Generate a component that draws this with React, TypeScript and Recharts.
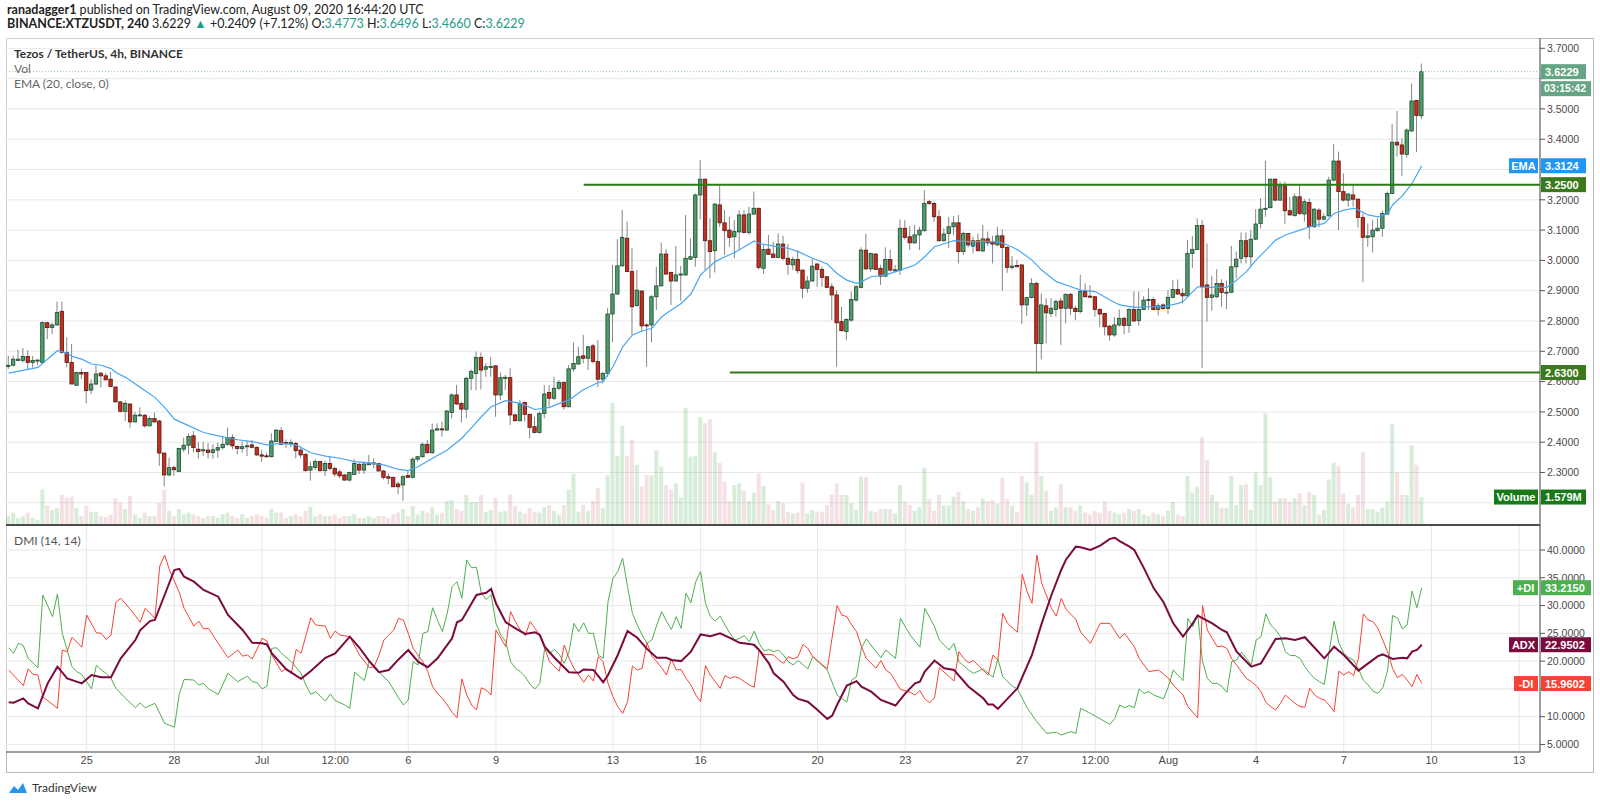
import React from "react";
import {
  ComposedChart,
  Bar,
  Line,
  XAxis,
  YAxis,
  CartesianGrid,
  ReferenceLine,
} from "recharts";

// XTZ/USDT 4h candles, first bar opens 22 Jun 2020 08:00 UTC, last one 9 Aug 16:00
// [open, high, low, close]
const ohlc: number[][] = [
  [2.650,2.685,2.641,2.654],[2.654,2.685,2.650,2.674],[2.670,2.705,2.669,2.674],[2.670,2.711,2.663,2.683],
  [2.683,2.704,2.641,2.663],[2.663,2.685,2.647,2.670],[2.670,2.674,2.654,2.671],[2.663,2.798,2.658,2.795],
  [2.794,2.798,2.740,2.778],[2.779,2.795,2.757,2.787],[2.787,2.864,2.784,2.828],[2.832,2.864,2.691,2.696],
  [2.696,2.746,2.647,2.663],[2.663,2.724,2.592,2.592],[2.588,2.632,2.586,2.630],[2.630,2.643,2.608,2.625],
  [2.630,2.632,2.529,2.570],[2.572,2.608,2.559,2.592],[2.592,2.654,2.588,2.625],[2.628,2.630,2.581,2.619],
  [2.619,2.628,2.603,2.606],[2.608,2.632,2.581,2.584],[2.582,2.584,2.531,2.533],[2.533,2.535,2.498,2.502],
  [2.502,2.537,2.470,2.528],[2.526,2.528,2.448,2.467],[2.467,2.500,2.465,2.489],[2.489,2.515,2.487,2.490],
  [2.489,2.493,2.448,2.454],[2.454,2.485,2.452,2.478],[2.478,2.498,2.465,2.467],[2.470,2.474,2.322,2.364],
  [2.364,2.366,2.254,2.292],[2.292,2.349,2.287,2.316],[2.316,2.322,2.289,2.309],[2.303,2.382,2.302,2.379],
  [2.377,2.415,2.368,2.390],[2.390,2.430,2.360,2.419],[2.421,2.437,2.366,2.382],[2.377,2.401,2.346,2.369],
  [2.374,2.401,2.355,2.375],[2.374,2.397,2.346,2.366],[2.366,2.393,2.346,2.375],[2.374,2.399,2.349,2.382],
  [2.382,2.421,2.375,2.393],[2.393,2.448,2.388,2.415],[2.415,2.426,2.377,2.388],[2.386,2.390,2.360,2.379],
  [2.379,2.402,2.365,2.385],[2.385,2.405,2.354,2.388],[2.391,2.407,2.380,2.383],[2.383,2.387,2.354,2.358],
  [2.358,2.374,2.336,2.354],[2.355,2.365,2.350,2.352],[2.352,2.429,2.350,2.404],[2.402,2.442,2.400,2.440],
  [2.438,2.449,2.391,2.393],[2.399,2.409,2.380,2.396],[2.396,2.409,2.383,2.399],[2.396,2.401,2.347,2.372],
  [2.374,2.380,2.347,2.358],[2.360,2.363,2.303,2.306],[2.308,2.336,2.273,2.319],[2.317,2.344,2.308,2.336],
  [2.336,2.338,2.303,2.306],[2.306,2.339,2.289,2.330],[2.330,2.354,2.306,2.313],[2.313,2.319,2.286,2.295],
  [2.302,2.310,2.281,2.289],[2.292,2.295,2.273,2.275],[2.275,2.303,2.270,2.300],[2.294,2.344,2.292,2.330],
  [2.327,2.332,2.295,2.308],[2.308,2.332,2.295,2.328],[2.327,2.358,2.325,2.329],[2.328,2.347,2.314,2.332],
  [2.330,2.332,2.303,2.305],[2.305,2.308,2.277,2.284],[2.286,2.297,2.262,2.281],[2.284,2.286,2.251,2.253],
  [2.262,2.270,2.229,2.253],[2.259,2.292,2.207,2.286],[2.290,2.308,2.281,2.284],[2.284,2.350,2.281,2.344],
  [2.344,2.354,2.336,2.352],[2.352,2.399,2.350,2.393],[2.393,2.407,2.363,2.365],[2.365,2.462,2.363,2.440],
  [2.440,2.462,2.440,2.444],[2.444,2.468,2.418,2.443],[2.440,2.506,2.438,2.503],[2.498,2.561,2.479,2.556],
  [2.556,2.589,2.523,2.526],[2.528,2.534,2.465,2.509],[2.509,2.616,2.479,2.611],[2.611,2.640,2.572,2.633],
  [2.627,2.699,2.572,2.680],[2.680,2.696,2.574,2.638],[2.641,2.660,2.616,2.649],[2.649,2.682,2.616,2.650],
  [2.652,2.653,2.484,2.556],[2.556,2.630,2.539,2.613],[2.613,2.622,2.572,2.614],[2.613,2.644,2.457,2.490],
  [2.490,2.495,2.468,2.471],[2.471,2.539,2.468,2.528],[2.531,2.534,2.468,2.492],[2.492,2.495,2.413,2.449],
  [2.451,2.484,2.429,2.432],[2.432,2.501,2.429,2.495],[2.495,2.589,2.479,2.559],[2.564,2.589,2.517,2.545],
  [2.545,2.616,2.539,2.578],[2.578,2.605,2.572,2.597],[2.597,2.600,2.508,2.517],[2.517,2.655,2.515,2.642],
  [2.642,2.729,2.633,2.660],[2.658,2.715,2.655,2.682],[2.685,2.754,2.660,2.677],[2.677,2.716,2.638,2.715],
  [2.718,2.724,2.660,2.666],[2.666,2.737,2.581,2.608],[2.608,2.633,2.594,2.627],[2.627,2.842,2.616,2.823],
  [2.823,2.985,2.729,2.889],[2.889,3.070,2.886,2.982],[2.982,3.166,2.979,3.076],[3.073,3.128,2.961,2.963],
  [2.963,3.040,2.754,2.847],[2.851,2.968,2.847,2.902],[2.899,2.902,2.765,2.784],[2.787,2.792,2.649,2.786],
  [2.787,2.886,2.729,2.880],[2.880,2.979,2.836,2.916],[2.916,3.059,2.913,3.021],[3.021,3.037,2.953,2.955],
  [2.960,2.963,2.853,2.932],[2.932,3.048,2.930,2.952],[2.952,2.982,2.867,2.955],[2.952,3.150,2.949,3.007],
  [3.004,3.073,3.001,3.012],[3.010,3.221,2.979,3.216],[3.216,3.331,3.136,3.268],[3.268,3.270,2.968,3.065],
  [3.065,3.139,2.941,3.029],[3.032,3.188,2.960,3.186],[3.183,3.249,3.111,3.124],[3.124,3.166,3.018,3.098],
  [3.100,3.144,3.045,3.076],[3.078,3.133,3.007,3.095],[3.094,3.166,3.034,3.150],[3.150,3.166,3.089,3.092],
  [3.092,3.177,3.084,3.153],[3.153,3.227,3.150,3.172],[3.172,3.174,2.970,2.977],[2.974,3.051,2.955,3.036],
  [3.037,3.084,3.018,3.020],[3.021,3.062,3.007,3.010],[3.010,3.089,3.007,3.054],[3.054,3.081,3.001,3.007],
  [3.007,3.054,2.952,2.987],[2.985,3.012,2.968,3.003],[3.003,3.034,2.957,2.966],[2.968,2.970,2.875,2.908],
  [2.908,2.948,2.893,2.932],[2.932,3.007,2.930,2.981],[2.988,2.992,2.913,2.970],[2.970,2.979,2.913,2.944],
  [2.946,2.948,2.908,2.911],[2.913,2.924,2.803,2.886],[2.886,2.902,2.649,2.794],[2.798,2.847,2.765,2.768],
  [2.765,2.809,2.737,2.805],[2.803,2.897,2.798,2.871],[2.869,2.919,2.864,2.913],[2.911,3.043,2.908,3.034],
  [3.034,3.087,2.968,2.972],[2.972,3.026,2.963,3.023],[3.021,3.023,2.968,2.970],[2.974,2.985,2.919,2.948],
  [2.948,3.043,2.946,3.003],[3.003,3.036,2.963,2.968],[2.968,2.985,2.963,2.969],[2.968,3.135,2.952,3.106],
  [3.106,3.133,3.069,3.076],[3.078,3.113,3.034,3.058],[3.058,3.117,3.054,3.084],[3.084,3.111,3.034,3.100],
  [3.098,3.232,3.095,3.188],[3.194,3.199,3.183,3.188],[3.188,3.194,3.128,3.144],[3.144,3.166,3.062,3.065],
  [3.065,3.106,3.062,3.087],[3.089,3.144,3.040,3.111],[3.111,3.146,3.084,3.124],[3.124,3.150,2.990,3.029],
  [3.029,3.095,3.018,3.089],[3.089,3.091,3.043,3.051],[3.047,3.078,3.023,3.065],[3.065,3.089,3.029,3.032],
  [3.031,3.117,3.029,3.071],[3.071,3.095,3.047,3.058],[3.062,3.081,2.990,3.054],[3.051,3.111,3.047,3.081],
  [3.081,3.102,2.900,3.043],[3.043,3.047,2.959,2.977],[2.977,3.014,2.970,2.981],[2.983,3.001,2.977,2.979],
  [2.985,2.986,2.790,2.853],[2.853,2.880,2.817,2.877],[2.877,2.941,2.875,2.924],[2.924,2.930,2.633,2.726],
  [2.726,2.891,2.673,2.853],[2.850,2.875,2.726,2.827],[2.825,2.875,2.814,2.842],[2.838,2.871,2.814,2.864],
  [2.866,2.877,2.721,2.842],[2.842,2.891,2.792,2.888],[2.888,2.893,2.820,2.842],[2.842,2.850,2.803,2.831],
  [2.831,2.952,2.825,2.897],[2.897,2.924,2.878,2.880],[2.882,2.918,2.875,2.880],[2.880,2.882,2.814,2.838],
  [2.838,2.842,2.781,2.823],[2.825,2.827,2.752,2.781],[2.783,2.787,2.735,2.754],[2.754,2.814,2.748,2.787],
  [2.787,2.838,2.781,2.809],[2.809,2.814,2.757,2.785],[2.785,2.842,2.761,2.838],[2.838,2.897,2.798,2.800],
  [2.801,2.897,2.785,2.838],[2.838,2.882,2.836,2.869],[2.869,2.908,2.836,2.871],[2.871,2.878,2.836,2.838],
  [2.838,2.858,2.818,2.850],[2.853,2.858,2.836,2.841],[2.841,2.902,2.823,2.878],[2.878,2.935,2.875,2.904],
  [2.904,2.937,2.886,2.889],[2.891,2.908,2.858,2.883],[2.883,3.067,2.880,3.023],[3.023,3.081,2.974,3.036],
  [3.036,3.139,3.034,3.115],[3.115,3.133,2.644,2.913],[2.919,3.056,2.798,2.878],[2.878,2.949,2.834,2.886],
  [2.880,2.971,2.875,2.924],[2.924,2.938,2.847,2.894],[2.894,2.933,2.839,2.895],[2.895,3.048,2.891,2.979],
  [2.979,3.029,2.941,3.004],[3.007,3.092,2.990,3.065],[3.065,3.092,2.990,3.012],[3.012,3.100,2.979,3.070],
  [3.070,3.169,3.067,3.120],[3.122,3.205,3.106,3.169],[3.170,3.329,3.144,3.172],[3.174,3.271,3.172,3.268],
  [3.268,3.271,3.194,3.199],[3.199,3.260,3.197,3.246],[3.246,3.260,3.120,3.164],[3.164,3.210,3.148,3.150],
  [3.148,3.221,3.144,3.210],[3.210,3.251,3.150,3.155],[3.153,3.202,3.128,3.194],[3.191,3.205,3.070,3.111],
  [3.111,3.172,3.108,3.169],[3.166,3.172,3.109,3.136],[3.136,3.155,3.133,3.144],[3.147,3.276,3.144,3.265],
  [3.265,3.384,3.260,3.328],[3.328,3.359,3.100,3.227],[3.227,3.287,3.194,3.199],[3.199,3.221,3.177,3.219],
  [3.216,3.249,3.177,3.202],[3.202,3.205,3.109,3.142],[3.142,3.155,2.928,3.076],[3.076,3.122,3.045,3.081],
  [3.078,3.133,3.026,3.100],[3.098,3.139,3.095,3.106],[3.106,3.164,3.078,3.155],[3.153,3.227,3.150,3.221],
  [3.221,3.450,3.219,3.390],[3.390,3.493,3.342,3.381],[3.381,3.403,3.279,3.351],[3.350,3.436,3.339,3.430],
  [3.427,3.584,3.425,3.526],[3.528,3.529,3.357,3.478],[3.4773,3.6496,3.466,3.6229],
];

// volume per candle, millions of XTZ
const volume: number[] = [
  0.5,0.7,0.4,0.5,0.7,0.4,0.3,2.0,1.1,0.85, 0.95,1.7,1.55,1.6,0.95,0.5,1.07,0.75,0.75,0.5,
  0.45,0.6,1.5,1.26,0.9,1.64,0.6,0.4,0.7,0.5, 0.5,1.24,1.98,0.8,0.5,0.9,0.6,0.7,0.6,0.5,
  0.4,0.5,0.5,0.4,0.6,0.7,0.5,0.4,0.6,0.4, 0.5,0.6,0.5,0.4,0.9,0.7,0.7,0.4,0.5,0.6,
  0.5,0.8,1.03,0.5,0.6,0.5,0.5,0.6,0.4,0.5, 0.5,0.6,0.4,0.4,0.5,0.4,0.5,0.5,0.4,0.6,
  0.7,0.9,0.5,1.07,0.6,0.8,0.7,1.0,0.6,0.7, 1.37,1.4,0.9,0.8,1.7,1.3,1.3,1.7,0.75,0.85,
  1.55,0.75,0.8,1.73,1.07,0.75,0.65,0.95,0.75,0.7, 1.0,1.13,0.8,0.6,1.13,2.0,2.9,0.75,1.13,0.8,
  1.37,2.1,0.95,2.8,6.9,3.9,5.6,3.9,4.8,3.4, 2.2,2.8,2.8,4.2,3.3,2.26,2.0,2.35,1.56,6.6,
  3.86,3.9,6.1,5.75,6.0,4.1,3.5,2.45,1.36,2.26, 2.35,1.92,1.36,1.83,2.88,2.2,1.17,0.85,1.36,1.23,
  0.75,0.65,0.7,2.4,0.65,0.85,0.75,0.75,1.13,1.7, 2.35,1.7,1.7,1.23,0.85,2.73,2.73,0.8,0.75,0.9,
  0.9,0.9,0.65,2.26,1.33,1.13,0.8,1.0,3.24,1.45, 0.8,1.7,1.1,1.1,1.6,1.88,1.36,0.9,0.8,1.0,
  1.5,1.36,1.4,1.2,2.67,1.45,1.1,0.75,2.77,2.4, 1.7,4.65,2.77,1.95,0.8,1.0,2.3,1.0,1.0,0.8,
  1.1,0.7,0.6,0.8,0.7,1.36,0.8,0.7,0.6,0.7, 0.9,0.8,0.9,0.6,0.5,0.7,0.6,0.5,0.8,1.3,
  0.6,0.5,2.77,1.83,2.17,4.95,3.67,1.7,1.32,0.98, 0.98,2.77,1.13,2.26,2.3,0.85,2.96,2.26,6.3,2.7,
  1.32,1.5,1.5,1.32,1.5,1.8,1.13,1.88,1.7,0.6, 0.85,2.58,3.52,3.33,1.8,1.2,1.0,1.7,4.1,0.9,
  0.9,0.75,0.98,1.32,5.7,2.96,1.7,1.7,4.5,3.4, 1.579,
];

// EMA(20) read at [candle index, value]
const emaPoints: number[][] = [
  [0,2.628],[6,2.647],[10,2.702],[12,2.694],[13,2.683],[15,2.674],[17,2.658],[19,2.654],[21,2.643],
  [22,2.630],[24,2.614],[26,2.592],[28,2.570],[30,2.548],[32,2.515],[34,2.476],[37,2.454],[40,2.432],
  [43,2.421],[47,2.408],[50,2.402],[53,2.391],[56,2.396],[59,2.391],[62,2.365],[65,2.354],[68,2.347],
  [71,2.336],[74,2.332],[77,2.325],[80,2.310],[82,2.306],[84,2.319],[87,2.347],[90,2.374],[93,2.413],
  [95,2.448],[97,2.484],[99,2.517],[102,2.537],[105,2.528],[108,2.508],[111,2.515],[113,2.528],
  [115,2.539],[118,2.574],[121,2.597],[122,2.600],[124,2.649],[126,2.715],[128,2.754],[130,2.767],
  [132,2.776],[134,2.814],[136,2.836],[138,2.858],[140,2.889],[142,2.952],[143,2.967],[145,2.996],
  [147,3.012],[149,3.026],[151,3.045],[153,3.064],[154,3.056],[157,3.047],[160,3.040],[162,3.029],
  [165,3.007],[168,2.988],[170,2.957],[172,2.935],[174,2.924],[175,2.930],[177,2.946],[180,2.952],
  [183,2.968],[186,2.985],[188,3.012],[190,3.045],[192,3.055],[194,3.065],[197,3.062],[200,3.062],
  [203,3.062],[205,3.051],[207,3.036],[210,3.001],[212,2.968],[215,2.930],[218,2.913],[220,2.902],
  [223,2.897],[226,2.869],[228,2.853],[231,2.845],[234,2.847],[237,2.847],[240,2.858],[241,2.864],
  [244,2.913],[246,2.911],[250,2.911],[252,2.935],[254,2.963],[256,3.001],[258,3.034],[260,3.067],
  [262,3.084],[265,3.100],[267,3.111],[270,3.122],[272,3.155],[274,3.166],[276,3.172],[277,3.166],
  [279,3.150],[281,3.144],[283,3.155],[284,3.183],[286,3.213],[288,3.254],[290,3.3124],
];

// DMI(14,14) lines read at [candle index, value]
const plusDI: number[][] = [
  [0,22.4],[1,21.4],[2,23.2],[3,22.8],[4,20.5],[6,18.8],[7,31.9],[9,28.0],[10,32.1],[11,25.0],[13,19.0],
  [14,18.1],[15,17.6],[17,15.0],[18,19.3],[19,18.4],[20,17.8],[21,16.9],[22,15.1],[24,13.3],[26,11.6],
  [27,12.5],[28,11.6],[30,12.4],[31,10.6],[32,8.8],[34,8.1],[35,14.0],[36,16.7],[38,16.6],[39,15.7],
  [40,16.0],[41,15.0],[43,14.0],[45,17.8],[47,16.3],[49,17.3],[50,16.3],[51,16.1],[52,15.0],[53,15.5],
  [54,22.3],[55,22.4],[56,21.4],[58,19.9],[60,17.8],[61,15.7],[62,14.0],[63,14.5],[65,12.8],[66,14.1],
  [67,12.9],[69,12.1],[70,11.5],[71,18.0],[73,16.5],[74,20.1],[75,18.8],[78,16.3],[80,13.4],[81,12.1],
  [82,13.0],[83,19.9],[84,19.3],[85,25.0],[86,25.3],[87,29.6],[88,27.4],[89,25.3],[90,28.6],[91,33.4],
  [92,34.3],[93,31.3],[94,38.2],[95,36.8],[96,36.9],[97,32.2],[98,31.1],[99,32.0],[100,26.8],[101,24.7],
  [102,23.5],[103,19.9],[104,18.7],[105,18.1],[106,17.2],[107,15.8],[108,15.0],[109,16.0],[110,22.3],
  [111,21.4],[112,22.1],[113,21.2],[114,19.6],[115,21.7],[116,26.8],[117,25.3],[118,26.9],[119,25.0],
  [120,25.0],[121,21.1],[122,20.5],[123,30.7],[124,34.9],[125,36.1],[126,38.5],[127,33.4],[128,28.6],
  [129,26.5],[130,24.7],[131,23.2],[132,23.8],[133,26.5],[134,28.9],[135,27.2],[136,25.7],[137,28.0],
  [138,25.9],[139,32.2],[140,30.5],[141,34.3],[142,36.1],[143,30.4],[144,28.0],[145,27.2],[146,28.1],
  [147,26.5],[148,25.0],[149,23.8],[150,24.1],[151,24.6],[152,23.5],[153,25.4],[154,23.2],[155,21.8],
  [156,22.1],[157,21.7],[158,22.0],[159,21.1],[160,19.9],[161,19.3],[162,20.1],[164,18.6],[165,20.8],
  [168,18.4],[170,13.9],[172,12.6],[173,16.6],[174,17.2],[175,22.4],[176,24.0],[179,20.6],[180,22.0],
  [182,20.5],[183,27.7],[185,24.7],[187,22.5],[188,29.5],[190,26.2],[191,23.8],[193,22.0],[194,23.2],
  [195,19.9],[197,18.4],[198,17.8],[200,18.6],[202,17.1],[203,20.4],[204,17.2],[206,15.5],[207,15.0],
  [209,11.6],[211,9.1],[213,7.0],[215,7.2],[216,6.7],[218,7.3],[219,7.0],[220,11.5],[222,10.6],[226,8.6],
  [227,9.7],[228,12.1],[229,11.6],[230,12.0],[231,11.6],[232,15.0],[233,14.2],[234,14.5],[235,13.9],
  [237,13.2],[238,15.4],[239,18.4],[241,16.5],[242,27.7],[243,26.2],[244,28.4],[245,19.9],[246,16.9],
  [247,16.0],[248,16.0],[249,15.4],[250,14.4],[251,19.9],[252,20.2],[253,21.6],[254,20.5],[255,19.3],
  [256,23.8],[257,24.4],[258,28.5],[259,26.5],[260,25.6],[261,24.4],[262,21.7],[263,21.0],[264,21.0],
  [265,20.5],[266,19.0],[267,17.8],[268,16.9],[269,16.3],[270,15.8],[271,21.7],[272,27.2],[273,23.2],
  [274,21.4],[275,20.6],[276,20.2],[277,18.6],[278,16.6],[279,15.7],[280,14.6],[281,14.2],[282,15.2],
  [283,18.4],[284,28.2],[285,27.8],[286,25.8],[287,26.5],[288,32.6],[289,29.6],[290,33.215],
];

const minusDI: number[][] = [
  [0,18.4],[3,15.6],[4,18.6],[5,17.6],[6,17.5],[7,13.6],[10,11.5],[11,22.0],[12,21.7],[13,24.3],[15,22.5],
  [16,28.3],[18,25.1],[19,25.0],[20,23.9],[21,24.7],[22,30.6],[23,31.3],[25,29.3],[27,27.0],[28,29.5],
  [30,27.7],[31,37.1],[32,39.1],[33,36.4],[35,32.4],[36,29.5],[38,26.3],[39,27.2],[40,25.8],[41,25.9],
  [43,23.2],[45,20.6],[47,22.0],[48,20.9],[49,21.1],[50,20.4],[52,24.1],[53,23.6],[54,21.1],[56,18.1],
  [57,18.7],[58,17.8],[59,22.1],[60,21.4],[62,27.8],[63,26.5],[65,26.3],[66,24.1],[67,25.4],[68,24.7],
  [70,24.4],[72,21.1],[74,18.8],[75,19.0],[76,21.1],[77,23.8],[79,25.6],[80,27.7],[81,27.4],[82,25.0],
  [83,22.3],[84,21.1],[85,19.9],[86,18.1],[87,15.4],[88,14.2],[89,13.3],[90,12.1],[91,10.8],[92,9.8],
  [93,16.8],[94,13.9],[95,12.1],[96,11.2],[97,15.2],[98,14.8],[99,13.9],[100,25.6],[101,24.1],[102,22.6],
  [103,28.9],[104,27.1],[105,25.6],[106,24.6],[107,27.1],[108,25.9],[109,24.7],[110,22.3],[111,19.9],
  [112,19.0],[113,18.2],[114,22.9],[115,20.5],[116,18.7],[117,17.5],[118,16.2],[119,17.5],[120,16.4],
  [121,20.8],[122,19.9],[123,16.0],[124,13.6],[125,11.8],[126,10.6],[127,12.7],[128,19.1],[129,18.4],
  [130,18.7],[131,23.3],[132,20.9],[133,19.9],[134,18.8],[135,17.5],[136,20.4],[137,18.4],[138,18.5],
  [139,16.9],[140,15.7],[141,13.9],[142,12.7],[143,19.2],[144,17.5],[145,16.3],[146,15.1],[147,17.4],
  [148,16.9],[149,17.2],[150,16.9],[151,16.3],[152,15.7],[153,15.3],[154,22.0],[155,21.2],[156,21.2],
  [157,21.1],[158,20.2],[159,19.6],[160,20.8],[161,20.4],[162,20.8],[163,23.0],[164,22.3],[165,20.8],
  [168,18.6],[170,30.0],[171,28.3],[172,28.0],[173,26.5],[174,25.3],[175,22.6],[176,20.5],[178,18.7],
  [179,20.1],[180,18.4],[181,17.8],[183,14.9],[185,14.4],[186,13.9],[187,14.7],[188,13.2],[189,12.5],
  [190,13.4],[191,18.8],[193,17.2],[194,16.4],[195,21.7],[196,20.5],[197,19.7],[198,20.1],[199,19.2],
  [201,17.5],[202,21.1],[203,20.2],[204,28.6],[205,26.8],[207,25.2],[208,35.6],[209,32.5],[210,30.4],
  [211,39.1],[212,34.0],[214,29.5],[215,28.1],[216,31.3],[217,29.3],[219,27.5],[220,25.2],[222,23.2],
  [224,26.8],[226,26.8],[228,24.1],[229,25.0],[231,22.6],[232,20.5],[234,18.1],[236,18.4],[238,16.9],
  [239,15.7],[241,13.9],[242,11.8],[244,9.8],[245,30.0],[246,25.6],[247,24.1],[248,22.6],[249,22.7],
  [250,22.3],[251,20.4],[252,19.3],[253,18.1],[254,16.9],[255,16.3],[256,15.6],[257,14.5],[258,12.6],
  [259,11.8],[260,11.2],[261,12.4],[262,13.9],[263,13.1],[264,12.4],[265,11.8],[266,11.7],[267,15.1],
  [268,13.9],[269,13.3],[270,13.0],[271,12.1],[272,10.9],[273,18.2],[274,17.5],[275,18.1],[276,17.4],
  [277,20.5],[278,28.5],[279,27.4],[280,27.1],[281,25.9],[282,23.8],[283,21.6],[284,18.7],[285,17.0],
  [286,17.6],[287,16.6],[288,15.4],[289,17.6],[290,15.9602],
];

const adx: number[][] = [
  [0,12.6],[1,12.5],[3,13.3],[4,12.4],[6,11.5],[8,16.0],[10,19.0],[12,16.9],[15,16.0],[17,17.5],[19,17.1],
  [21,17.1],[23,20.5],[26,23.8],[27,25.6],[29,27.2],[30,27.4],[32,31.9],[34,36.4],[35,36.6],[36,35.2],
  [38,34.3],[40,32.8],[43,31.6],[45,28.3],[48,25.6],[50,23.3],[52,23.2],[53,23.0],[54,21.4],[57,18.5],
  [60,16.8],[62,18.2],[65,20.6],[67,21.4],[70,24.4],[72,22.4],[74,20.0],[76,18.0],[78,18.4],[80,20.3],
  [82,22.0],[84,19.9],[86,18.9],[88,20.5],[89,21.7],[91,24.1],[92,27.0],[93,27.4],[94,28.9],[96,31.9],
  [98,32.3],[99,33.0],[100,30.4],[102,27.0],[104,25.9],[106,24.9],[108,25.2],[109,24.7],[110,22.6],
  [112,20.6],[115,18.0],[117,17.9],[118,18.5],[120,18.4],[122,16.2],[123,17.5],[125,21.1],[127,25.4],
  [129,24.2],[131,22.2],[133,20.6],[135,20.6],[136,20.2],[138,20.0],[140,21.7],[142,24.8],[144,24.5],
  [146,25.0],[148,24.2],[150,23.3],[152,23.1],[153,22.9],[154,22.0],[156,19.6],[157,17.8],[159,16.3],
  [161,13.9],[162,13.2],[164,12.7],[166,11.2],[168,9.6],[169,10.2],[170,12.1],[172,15.6],[174,16.4],
  [175,15.4],[177,14.5],[179,13.0],[182,12.0],[184,14.2],[186,16.0],[187,16.3],[188,18.1],[190,20.1],
  [192,18.7],[194,18.4],[197,15.4],[200,13.3],[201,12.2],[202,12.2],[203,11.4],[207,15.1],[210,21.1],
  [212,26.8],[214,31.9],[216,36.4],[217,38.3],[219,40.6],[220,40.5],[222,40.0],[224,40.8],[226,42.0],
  [227,42.2],[228,41.6],[230,40.6],[231,40.0],[233,36.7],[235,33.1],[237,30.6],[239,26.8],[241,24.4],
  [243,26.8],[244,28.2],[247,26.8],[249,25.6],[250,25.2],[252,21.7],[255,19.0],[257,19.6],[260,24.0],
  [262,24.1],[264,23.8],[266,24.3],[268,22.4],[270,20.5],[272,22.6],[274,21.1],[277,18.3],[279,19.6],
  [281,20.9],[282,21.2],[284,20.4],[286,20.6],[287,20.5],[288,21.7],[289,22.0],[290,22.9502],
];

// time axis: candle index of each label (6 candles per day, index 16 = 25 Jun 00:00)
const timeTicks = [16, 34, 52, 67, 82, 100, 124, 142, 166, 184, 208, 223, 238, 256, 274, 292, 310];
const timeLabels = ["25", "28", "Jul", "12:00", "6", "9", "13", "16", "20", "23", "27", "12:00", "Aug", "4", "7", "10", "13"];
const priceTicks = [2.2, 2.3, 2.4, 2.5, 2.6, 2.7, 2.8, 2.9, 3.0, 3.1, 3.2, 3.3, 3.4, 3.5, 3.6, 3.7];
const dmiTicks = [5, 10, 15, 20, 25, 30, 35, 40];
// scale labels that sit under a value tag in the original (grid line kept, text not shown)
const hiddenPriceLabels = [2.2, 3.3, 3.6];
const hiddenDmiLabels = [15];

// horizontal levels drawn on the chart (price, first candle index)
const levels = [
  { price: 3.25, from: 118 },
  { price: 2.63, from: 148 },
];

const lastPrice = 3.6229;
const lastEma = 3.3124;
const lastVolume = 1.579;
const lastPlusDI = 33.215;
const lastAdx = 22.9502;
const lastMinusDI = 15.9602;

const X_DOMAIN: [number, number] = [-0.554, 314.26];
const PRICE_DOMAIN: [number, number] = [2.1267, 3.734];
const VOL_DOMAIN: [number, number] = [0, 27.5];
const DMI_DOMAIN: [number, number] = [3.64, 44.5];

const CHART_W = 1588;
const AXIS_W = 54;
const SANS = '"Liberation Sans", Arial, sans-serif';
const TEXT = 'Lato, "Open Sans", sans-serif';

const UP = "#4f9c6b";
const UP_EDGE = "#1f4a2f";
const DOWN = "#c22f1f";
const DOWN_EDGE = "#571810";

const toMap = (pts: number[][]) => new Map(pts.map(([i, v]) => [i, v] as [number, number]));
const emaMap = toMap(emaPoints);
const pdiMap = toMap(plusDI);
const mdiMap = toMap(minusDI);
const adxMap = toMap(adx);

const priceRows = ohlc.map(([o, h, l, c], i) => ({
  i,
  o,
  h,
  l,
  c,
  range: [l, h],
  vol: volume[i],
  ema: emaMap.get(i) ?? null,
}));

const dmiRows = ohlc.map((_, i) => ({
  i,
  pdi: pdiMap.get(i) ?? null,
  mdi: mdiMap.get(i) ?? null,
  adx: adxMap.get(i) ?? null,
}));

const isHidden = (list: number[], v: number) => list.some((h) => Math.abs(h - v) < 1e-6);

function Candle(props: any) {
  const { x, y, width, height, payload } = props;
  if (!payload || x == null || y == null) return null;
  const { o, h, l, c } = payload;
  const top = Math.min(y, y + height);
  const span = Math.abs(height);
  const cx = x + width / 2;
  const k = h > l ? span / (h - l) : 0;
  const yO = top + (h - o) * k;
  const yC = top + (h - c) * k;
  const up = c >= o;
  const bodyTop = Math.min(yO, yC);
  const bodyH = Math.max(Math.abs(yO - yC), 1);
  return (
    <g>
      <line x1={cx} x2={cx} y1={top} y2={top + span} stroke="#858585" strokeWidth={1} />
      <rect
        x={cx - 1.7}
        y={bodyTop}
        width={3.4}
        height={bodyH}
        fill={up ? UP : DOWN}
        stroke={up ? UP_EDGE : DOWN_EDGE}
        strokeWidth={0.8}
      />
    </g>
  );
}

function VolumeBar(props: any) {
  const { x, y, width, height, payload } = props;
  if (!payload || x == null || y == null) return null;
  const cx = x + width / 2;
  const up = payload.c >= payload.o;
  return (
    <rect
      x={cx - 2}
      y={Math.min(y, y + height)}
      width={4}
      height={Math.abs(height)}
      fill={up ? "rgba(76,175,80,0.22)" : "rgba(190,90,100,0.18)"}
    />
  );
}

type TagOpts = {
  value: string;
  color: string;
  name?: string;
  nameW?: number;
  valueW?: number;
  sub?: string;
};

// coloured value tag on the scale, placed by the library from the reference line's y
const makeTag = (t: TagOpts) => (props: any) => {
  const vb = props.viewBox ?? {};
  const right = (vb.x ?? 0) + (vb.width ?? 0);
  const cy = vb.y ?? 0;
  const h = 15;
  const vw = t.valueW ?? 45;
  const nw = t.nameW ?? 30;
  const font = { fontFamily: SANS, fontSize: 11, fontWeight: 700, fill: "#fff" };
  return (
    <g>
      {t.name ? (
        <g>
          <rect x={right - nw} y={cy - h / 2} width={nw - 2} height={h} fill={t.color} />
          <text x={right - nw / 2 - 1} y={cy + 4} textAnchor="middle" {...font}>
            {t.name}
          </text>
        </g>
      ) : null}
      <rect x={right + 1} y={cy - h / 2} width={vw} height={h} fill={t.color} />
      <text x={right + 5} y={cy + 4} {...font}>
        {t.value}
      </text>
      {t.sub ? (
        <g>
          <rect x={right + 1} y={cy + h / 2 + 2} width={50} height={h} fill={t.color} />
          <text x={right + 4} y={cy + h / 2 + 2 + 11} {...font} fontSize={10.5}>
            {t.sub}
          </text>
        </g>
      ) : null}
    </g>
  );
};

const tickFont = { fontFamily: SANS, fontSize: 10.5, fill: "#4a4a4a" };
const timeFont = { fontFamily: SANS, fontSize: 11, fill: "#4a4a4a" };

function MainPane() {
  return (
    <div style={{ position: "absolute", left: 6, top: 38, width: CHART_W, height: 487 }}>
      <div style={{ position: "absolute", left: 0, top: 0 }}>
        <ComposedChart width={CHART_W} height={487} data={priceRows} margin={{ top: 0, right: 0, bottom: 0, left: 0 }}>
          <CartesianGrid yAxisId="p" stroke="#e8e8e8" />
          <XAxis
            dataKey="i"
            type="number"
            domain={X_DOMAIN}
            allowDataOverflow
            ticks={timeTicks}
            height={0}
            tick={false}
            tickLine={false}
            axisLine={false}
          />
          <YAxis
            yAxisId="p"
            orientation="right"
            width={AXIS_W}
            domain={PRICE_DOMAIN}
            allowDataOverflow
            ticks={priceTicks}
            tickFormatter={(v: number) => (isHidden(hiddenPriceLabels, v) ? "" : v.toFixed(4))}
            tick={tickFont}
            tickSize={5}
            tickLine={{ stroke: "#555" }}
            axisLine={{ stroke: "#4a4a4a" }}
            interval={0}
          />
          <YAxis yAxisId="vol" hide domain={VOL_DOMAIN} allowDataOverflow />
          <Bar yAxisId="vol" dataKey="vol" barSize={4} shape={VolumeBar} isAnimationActive={false} />
        </ComposedChart>
      </div>
      <div style={{ position: "absolute", left: 0, top: 0 }}>
        <ComposedChart width={CHART_W} height={487} data={priceRows} margin={{ top: 0, right: AXIS_W, bottom: 0, left: 0 }}>
          <XAxis dataKey="i" type="number" domain={X_DOMAIN} allowDataOverflow hide />
          <YAxis yAxisId="p" hide domain={PRICE_DOMAIN} allowDataOverflow />
          <YAxis yAxisId="vol" hide domain={VOL_DOMAIN} allowDataOverflow />
          <Line
            yAxisId="p"
            dataKey="ema"
            stroke="#48a6f2"
            strokeWidth={1.2}
            dot={false}
            connectNulls
            isAnimationActive={false}
          />
          <Bar yAxisId="p" dataKey="range" barSize={4} shape={Candle} isAnimationActive={false} />
          <ReferenceLine
            yAxisId="p"
            y={lastPrice}
            stroke="#8cc4a2"
            strokeDasharray="1 2"
            label={makeTag({ value: lastPrice.toFixed(4), color: "#66a583", sub: "03:15:42" })}
          />
          {levels.map((lv) => (
            <ReferenceLine
              key={"seg" + lv.price}
              yAxisId="p"
              segment={[
                { x: lv.from, y: lv.price },
                { x: X_DOMAIN[1], y: lv.price },
              ]}
              stroke="#2c7a17"
              strokeWidth={2}
            />
          ))}
          {levels.map((lv) => (
            <ReferenceLine
              key={"tag" + lv.price}
              yAxisId="p"
              y={lv.price}
              stroke="none"
              strokeOpacity={0}
              label={makeTag({ value: lv.price.toFixed(4), color: "#3b7a1c" })}
            />
          ))}
          <ReferenceLine
            yAxisId="p"
            y={lastEma}
            stroke="none"
            strokeOpacity={0}
            label={makeTag({ value: lastEma.toFixed(4), color: "#2196f3", name: "EMA", nameW: 31 })}
          />
          <ReferenceLine
            yAxisId="vol"
            y={lastVolume}
            stroke="none"
            strokeOpacity={0}
            label={makeTag({ value: lastVolume.toFixed(3) + "M", color: "#177a17", name: "Volume", nameW: 46 })}
          />
        </ComposedChart>
      </div>
    </div>
  );
}

function DmiPane() {
  return (
    <div style={{ position: "absolute", left: 6, top: 525, width: CHART_W, height: 248 }}>
      <div style={{ position: "absolute", left: 0, top: 0 }}>
        <ComposedChart width={CHART_W} height={248} data={dmiRows} margin={{ top: 0, right: 0, bottom: 0, left: 0 }}>
          <CartesianGrid stroke="#e8e8e8" />
          <XAxis
            dataKey="i"
            type="number"
            domain={X_DOMAIN}
            allowDataOverflow
            ticks={timeTicks}
            interval={0}
            height={21}
            tickSize={2}
            tickLine={false}
            axisLine={{ stroke: "#4a4a4a" }}
            tick={timeFont}
            tickFormatter={(v: number) => timeLabels[timeTicks.indexOf(v)] ?? ""}
          />
          <YAxis
            orientation="right"
            width={AXIS_W}
            domain={DMI_DOMAIN}
            allowDataOverflow
            ticks={dmiTicks}
            interval={0}
            tickFormatter={(v: number) => (isHidden(hiddenDmiLabels, v) ? "" : v.toFixed(4))}
            tick={tickFont}
            tickSize={5}
            tickLine={{ stroke: "#555" }}
            axisLine={{ stroke: "#4a4a4a" }}
          />
        </ComposedChart>
      </div>
      <div style={{ position: "absolute", left: 0, top: 0 }}>
        <ComposedChart width={CHART_W} height={248} data={dmiRows} margin={{ top: 0, right: AXIS_W, bottom: 21, left: 0 }}>
          <XAxis dataKey="i" type="number" domain={X_DOMAIN} allowDataOverflow hide />
          <YAxis hide domain={DMI_DOMAIN} allowDataOverflow />
          <Line dataKey="pdi" stroke="#4caf50" strokeWidth={1} dot={false} connectNulls isAnimationActive={false} />
          <Line dataKey="mdi" stroke="#f44336" strokeWidth={1} dot={false} connectNulls isAnimationActive={false} />
          <Line dataKey="adx" stroke="#7b0a3e" strokeWidth={2} dot={false} connectNulls isAnimationActive={false} />
          <ReferenceLine
            y={lastPlusDI}
            stroke="none"
            strokeOpacity={0}
            label={makeTag({ value: lastPlusDI.toFixed(4), color: "#4caf50", name: "+DI", nameW: 27, valueW: 50 })}
          />
          <ReferenceLine
            y={lastAdx}
            stroke="none"
            strokeOpacity={0}
            label={makeTag({ value: lastAdx.toFixed(4), color: "#7b0a3e", name: "ADX", nameW: 31, valueW: 50 })}
          />
          <ReferenceLine
            y={lastMinusDI}
            stroke="none"
            strokeOpacity={0}
            label={makeTag({ value: lastMinusDI.toFixed(4), color: "#f44336", name: "-DI", nameW: 26, valueW: 50 })}
          />
        </ComposedChart>
      </div>
    </div>
  );
}

function Header() {
  const teal = "#1e9e8a";
  return (
    <div style={{ position: "absolute", left: 7, top: 4, fontFamily: TEXT, fontSize: 12.5, color: "#222", lineHeight: "12.5px", whiteSpace: "nowrap" }}>
      <div>
        <b>ranadagger1</b> published on TradingView.com, August 09, 2020 16:44:20 UTC
      </div>
      <div style={{ marginTop: 1 }}>
        <b>BINANCE:XTZUSDT, 240</b> 3.6229 <span style={{ color: teal }}>▲</span> +0.2409 (+7.12%) O:
        <span style={{ color: teal }}>3.4773</span> H:<span style={{ color: teal }}>3.6496</span> L:
        <span style={{ color: teal }}>3.4660</span> C:<span style={{ color: teal }}>3.6229</span>
      </div>
    </div>
  );
}

function Legends() {
  const base: React.CSSProperties = { position: "absolute", left: 14, fontFamily: TEXT, fontSize: 12, lineHeight: "13px", whiteSpace: "nowrap" };
  return (
    <>
      <div style={{ ...base, top: 47, color: "#333", fontWeight: 700 }}>Tezos / TetherUS, 4h, BINANCE</div>
      <div style={{ ...base, top: 62, color: "#666" }}>Vol</div>
      <div style={{ ...base, top: 77, color: "#666" }}>EMA (20, close, 0)</div>
      <div style={{ ...base, top: 534, color: "#555" }}>DMI (14, 14)</div>
    </>
  );
}

function Logo() {
  return (
    <div style={{ position: "absolute", left: 8, top: 780, display: "flex", alignItems: "center", gap: 4 }}>
      <svg width={20} height={14} viewBox="0 0 20 14">
        <path d="M1 12 L6 5 L10 9 L15 2 L19 12 Z" fill="#2196f3" />
      </svg>
      <span style={{ fontFamily: TEXT, fontSize: 12, color: "#333" }}>TradingView</span>
    </div>
  );
}

export default function App() {
  return (
    <div style={{ position: "relative", width: 1600, height: 805, background: "#fff", overflow: "hidden" }}>
      <style>{"body{margin:0}"}</style>
      <Header />
      <div
        style={{
          position: "absolute",
          left: 6,
          top: 38,
          width: CHART_W,
          height: 735,
          border: "1px solid #b9b9b9",
          boxSizing: "border-box",
        }}
      />
      <MainPane />
      <DmiPane />
      <div style={{ position: "absolute", left: 6, top: 524, width: CHART_W - AXIS_W, height: 2, background: "#4d4d4d" }} />
      <Legends />
      <Logo />
    </div>
  );
}
